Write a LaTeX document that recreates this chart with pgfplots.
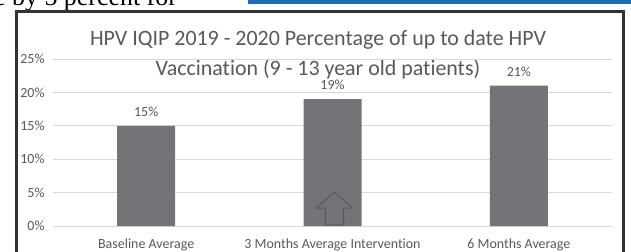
\documentclass[border=0pt]{standalone}
\usepackage{pgfplots}
\pgfplotsset{compat=1.18}
\usepackage{fontspec}
\setmainfont{Carlito}[Ligatures=NoCommon]
\newfontfamily\seriffont{Liberation Serif}
\definecolor{txt}{HTML}{595959}
\definecolor{barc}{HTML}{737378}
\definecolor{gridc}{HTML}{D9D9D9}
\definecolor{topblue}{HTML}{1F6CB0}
\begin{document}
\begin{tikzpicture}[x=1bp,y=1bp]
\clip (0,0) rectangle (631,251);
\fill[white] (0,0) rectangle (631,251);
% top scan remnants
\fill[topblue] (248,247) rectangle (631,251);
\node[anchor=base west, inner sep=0, font=\seriffont\fontsize{26}{30}\selectfont, text=black] at (-6,246) {e by 5 percent for};
% frame
\draw[line width=3.5bp, color=black!80] (16.5,239.5) rectangle (623.5,-10);
% title
\node[anchor=base, inner sep=0, font=\fontsize{22}{26}\selectfont, text=txt] at (318,206) {HPV IQIP 2019 - 2020 Percentage of up to date HPV};
\node[anchor=base, inner sep=0, font=\fontsize{22}{26}\selectfont, text=txt] at (318,176) {Vaccination (9 - 13 year old patients)};
\begin{axis}[
  at={(53bp,25bp)}, anchor=south west,
  scale only axis, width=559bp, height=167bp,
  xmin=-0.5, xmax=2.5, ymin=0, ymax=25,
  axis lines=none,
  ymajorgrids, grid style={gridc, line width=0.9bp},
  ytick={0,5,10,15,20,25},
  yticklabel={\pgfmathprintnumber{\tick}\%},
  xtick={0,1,2},
  xticklabels={Baseline Average, 3 Months Average Intervention, 6 Months Average},
  tick style={draw=none},
  /pgf/number format/assume math mode=true,
  ticklabel style={font=\fontsize{14}{16}\selectfont, text=txt},
  yticklabel style={xshift=-5bp},
  xticklabel style={yshift=-5bp},
  hide axis=false,
  axis line style={draw=none},
  ybar, bar width=58bp,
  nodes near coords={\pgfmathprintnumber{\pgfplotspointmeta}\%},
  nodes near coords style={font=\fontsize{14}{16}\selectfont, text=txt, anchor=south, yshift=6bp},
  clip=false,
]
\addplot[fill=barc, draw=none] coordinates {(0,15) (1,19) (2,21)};
\draw[color=black!65, line width=1bp, fill=barc]
  (axis cs:0.962,0.15) -- (axis cs:0.962,2.69) -- (axis cs:0.914,2.69) -- (axis cs:1.0105,5.09)
  -- (axis cs:1.107,2.69) -- (axis cs:1.059,2.69) -- (axis cs:1.059,0.15) -- cycle;
\end{axis}
\end{tikzpicture}
\end{document}
